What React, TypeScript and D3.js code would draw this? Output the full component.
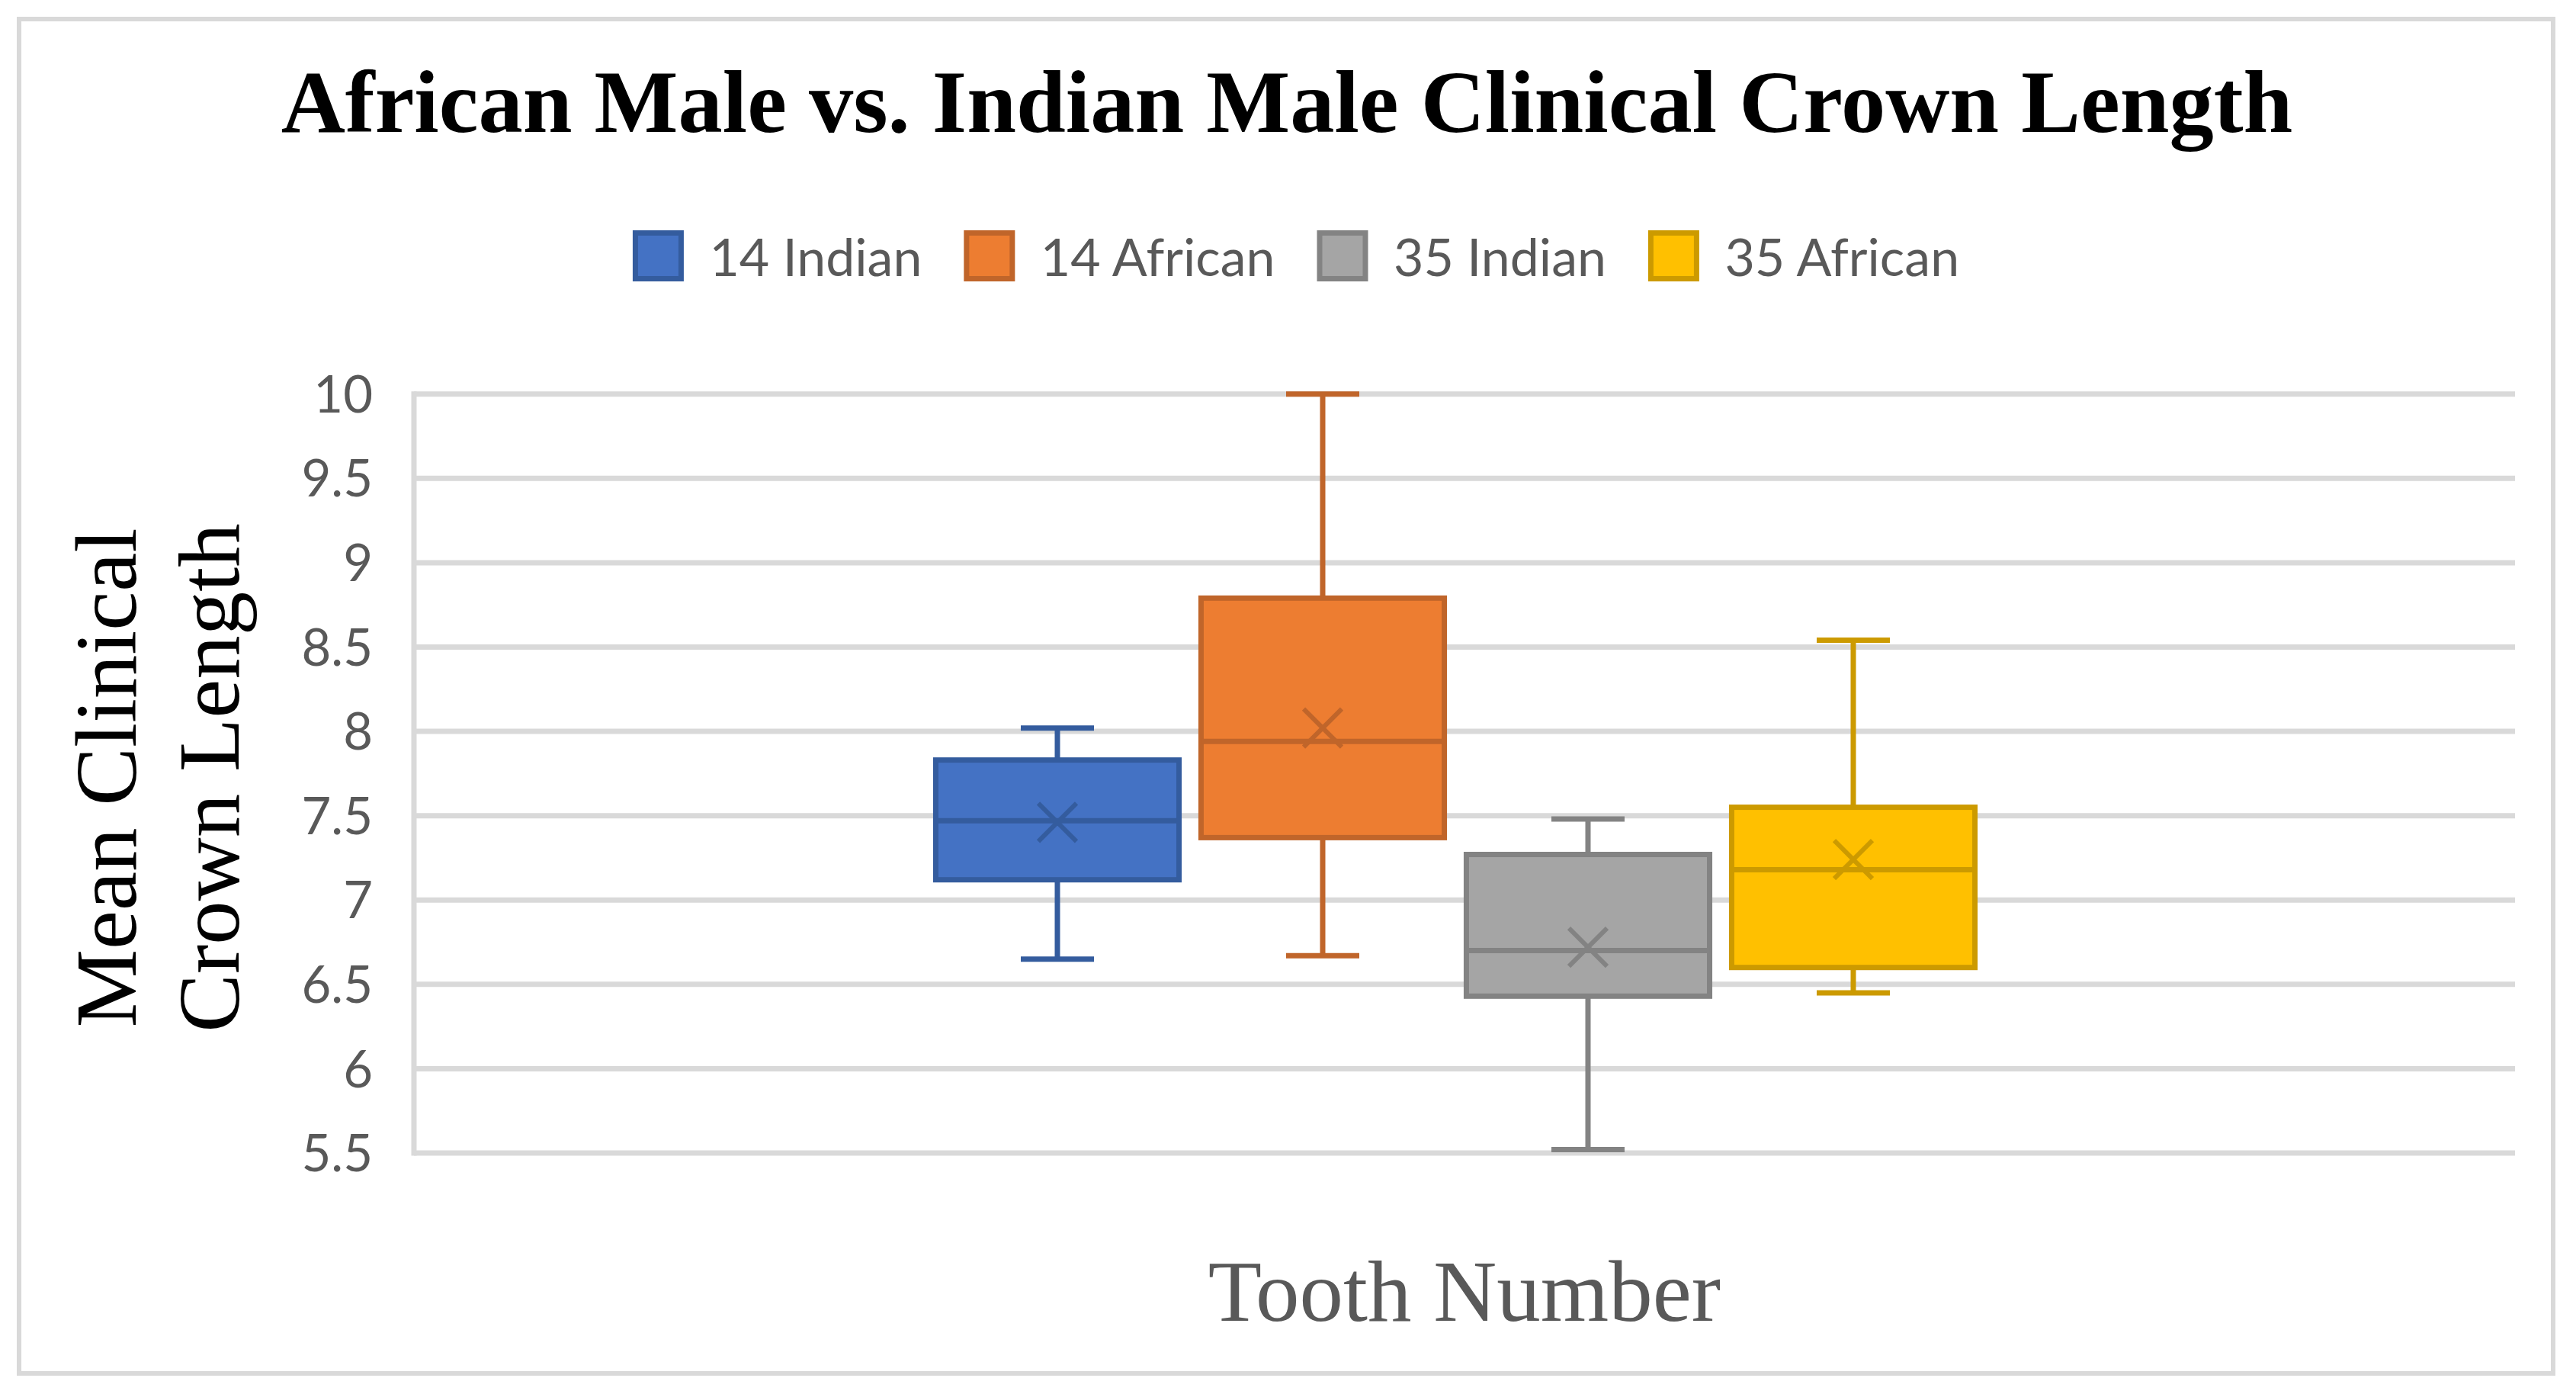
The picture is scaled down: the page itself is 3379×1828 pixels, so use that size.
import React, { useLayoutEffect, useRef, useState } from 'react';
import * as d3 from 'd3';

const W = 3379;
const H = 1828;

const series = ['14 Indian', '14 African', '35 Indian', '35 African'];
const fills = ['#4472C4', '#ED7D31', '#A5A5A5', '#FFC000'];
const strokes = ['#345C9E', '#C0652A', '#838383', '#CC9A00'];

// box stats
const whiskerMax = [8.02, 10.0, 7.48, 8.54];
const q3 = [7.83, 8.79, 7.27, 7.55];
const median = [7.47, 7.94, 6.70, 7.18];
const mean = [7.46, 8.02, 6.72, 7.24];
const q1 = [7.12, 7.37, 6.43, 6.60];
const whiskerMin = [6.65, 6.67, 5.52, 6.45];

const yTicks = [5.5, 6, 6.5, 7, 7.5, 8, 8.5, 9, 9.5, 10];

const plotLeft = 543;
const plotRight = 3299;
const grid = '#D9D9D9';
const textGray = '#595959';

const App: React.FC = () => {
  const legendRefs = useRef<(SVGTextElement | null)[]>([]);
  const [widths, setWidths] = useState<number[]>(series.map(() => 275));

  useLayoutEffect(() => {
    document.body.style.margin = '0';
    const w = legendRefs.current.map(t => (t ? t.getComputedTextLength() : 275));
    setWidths(w);
  }, []);

  const y = d3.scaleLinear().domain([5.5, 10]).range([1512, 516.7]);
  const x = d3.scaleBand<string>()
    .domain(series)
    .range([1213, 2605])
    .paddingInner(0.083)
    .paddingOuter(0.0415);
  const bw = x.bandwidth();
  const capW = 96;
  const xs = 25;

  // legend layout
  const sw = 60;
  const swGap = 37;
  const itemGap = 55;
  const itemW = widths.map(w => sw + 3.5 + swGap + w);
  const total = d3.sum(itemW) + itemGap * (series.length - 1);
  let cursor = 1700 - total / 2;
  const legendX = itemW.map(w => {
    const p = cursor;
    cursor += w + itemGap;
    return p;
  });

  return (
    <svg width={W} height={H} style={{ display: 'block', background: '#fff' }}>
      <rect x={0} y={0} width={W} height={H} fill="#fff" />
      <rect x={25} y={25} width={3324} height={1776} fill="#fff" stroke={grid} strokeWidth={6} />

      <text
        x={1688}
        y={173}
        textAnchor="middle"
        fontFamily="'Liberation Serif', 'Times New Roman', serif"
        fontWeight="bold"
        fontSize={116.5}
        fill="#000"
      >
        African Male vs. Indian Male Clinical Crown Length
      </text>

      {series.map((s, i) => (
        <g key={s} transform={`translate(${legendX[i]},0)`}>
          <rect x={3.5} y={305.5} width={sw} height={sw} fill={fills[i]} stroke={strokes[i]} strokeWidth={7} />
          <text
            ref={el => { legendRefs.current[i] = el; }}
            x={sw + 3.5 + swGap}
            y={362}
            fontFamily="Lato, 'Open Sans', sans-serif"
            fontSize={68}
            fill={textGray}
          >
            {s}
          </text>
        </g>
      ))}

      {yTicks.map(t => (
        <g key={t}>
          <line x1={plotLeft} x2={plotRight} y1={y(t)} y2={y(t)} stroke={grid} strokeWidth={7} />
          <text
            x={489}
            y={y(t)}
            dy="0.36em"
            textAnchor="end"
            fontFamily="Lato, 'Open Sans', sans-serif"
            fontSize={67}
            fill={textGray}
          >
            {t}
          </text>
        </g>
      ))}
      <line x1={plotLeft} x2={plotLeft} y1={y(10) - 3.5} y2={y(5.5) + 3.5} stroke={grid} strokeWidth={7} />

      {series.map((s, i) => {
        const cx = (x(s) as number) + bw / 2;
        const my = y(mean[i]);
        return (
          <g key={s} stroke={strokes[i]} strokeWidth={7}>
            <line x1={cx} x2={cx} y1={y(whiskerMax[i])} y2={y(q3[i])} />
            <line x1={cx} x2={cx} y1={y(q1[i])} y2={y(whiskerMin[i])} />
            <line x1={cx - capW / 2} x2={cx + capW / 2} y1={y(whiskerMax[i])} y2={y(whiskerMax[i])} />
            <line x1={cx - capW / 2} x2={cx + capW / 2} y1={y(whiskerMin[i])} y2={y(whiskerMin[i])} />
            <rect x={x(s)} y={y(q3[i])} width={bw} height={y(q1[i]) - y(q3[i])} fill={fills[i]} />
            <line x1={x(s)} x2={(x(s) as number) + bw} y1={y(median[i])} y2={y(median[i])} />
            <g strokeWidth={6}>
              <line x1={cx - xs} x2={cx + xs} y1={my - xs} y2={my + xs} />
              <line x1={cx - xs} x2={cx + xs} y1={my + xs} y2={my - xs} />
            </g>
          </g>
        );
      })}

      <g fontFamily="'Liberation Serif', 'Times New Roman', serif" fontSize={115} fill="#000">
        <text transform={`translate(178,1020) rotate(-90)`} textAnchor="middle">Mean Clinical</text>
        <text transform={`translate(313,1020) rotate(-90)`} textAnchor="middle">Crown Length</text>
      </g>

      <text
        x={1921}
        y={1732}
        textAnchor="middle"
        fontFamily="'Liberation Serif', 'Times New Roman', serif"
        fontSize={115}
        fill={textGray}
      >
        Tooth Number
      </text>
    </svg>
  );
};

export default App;
